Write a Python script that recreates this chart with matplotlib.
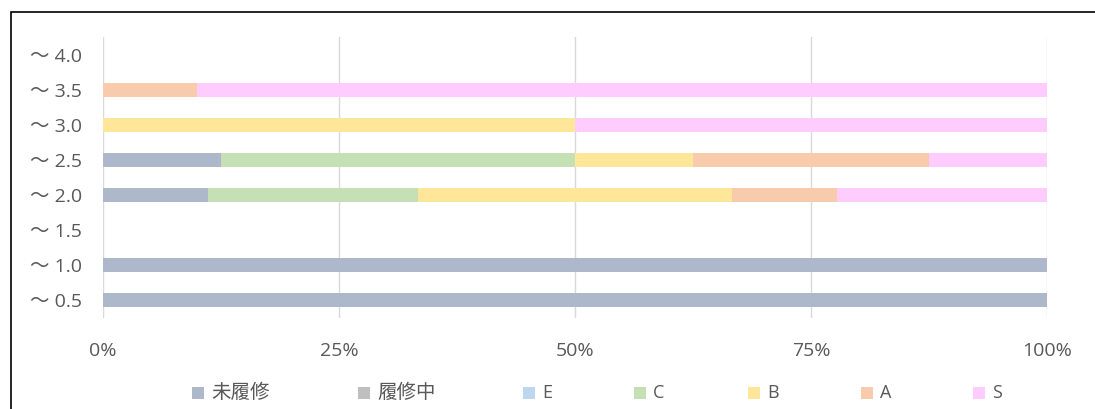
"""
Stacked 100% bar chart of grade distribution per score band.
"""
import numpy as np
import matplotlib.pyplot as plt
from matplotlib.patches import Rectangle

plt.rcParams['font.family'] = ['Open Sans', 'Noto Sans CJK JP', 'DejaVu Sans']

# categories from bottom to top
bands = ['～ 0.5', '～ 1.0', '～ 1.5', '～ 2.0', '～ 2.5', '～ 3.0', '～ 3.5', '～ 4.0']
series = ['未履修', '履修中', 'E', 'C', 'B', 'A', 'S']
colors = ['#ADB9CA', '#BFBFBF', '#BDD7EE', '#C5E0B4', '#FFE699', '#F8CBAD', '#FFCCFF']

# counts per band (same order as bands)
mirishu  = [1, 1, 0, 1, 1, 0, 0, 0]
rishuchu = [0, 0, 0, 0, 0, 0, 0, 0]
grade_e  = [0, 0, 0, 0, 0, 0, 0, 0]
grade_c  = [0, 0, 0, 2, 3, 0, 0, 0]
grade_b  = [0, 0, 0, 3, 1, 1, 0, 0]
grade_a  = [0, 0, 0, 1, 2, 0, 1, 0]
grade_s  = [0, 0, 0, 2, 1, 1, 9, 0]

xticks = [0, 25, 50, 75, 100]
xticklabels = ['0%', '25%', '50%', '75%', '100%']

# legend entry left edges in pixels (layout only)
legend_x = [192, 358, 523, 634, 748, 861, 973]


def main():
    counts = np.array([mirishu, rishuchu, grade_e, grade_c, grade_b, grade_a, grade_s], dtype=float)
    totals = counts.sum(axis=0)
    pct = np.divide(counts * 100, totals, out=np.zeros_like(counts), where=totals > 0)

    W, H = 1095, 409
    fig = plt.figure(figsize=(W / 100, H / 100), dpi=100)
    ax = fig.add_axes([103 / W, 1 - 318 / H, (1047 - 103) / W, (318 - 37) / H])

    # outer chart frame
    fig.patches.append(Rectangle((11 / W, -0.1), 1.2, 1.1 - 12 / H, transform=fig.transFigure,
                                 fill=False, edgecolor='#000000', linewidth=1.2))

    y = np.arange(len(bands))
    left = np.zeros(len(bands))
    for i, name in enumerate(series):
        ax.barh(y, pct[i], left=left, height=0.4, color=colors[i], label=name,
                linewidth=0, zorder=3)
        left += pct[i]

    ax.set_xlim(0, 100)
    ax.set_ylim(-0.5, len(bands) - 0.5)
    ax.set_xticks(xticks)
    ax.set_xticklabels(xticklabels)
    ax.set_yticks(y)
    ax.set_yticklabels(bands)
    ax.tick_params(length=0, labelsize=14, labelcolor='#595959')
    ax.tick_params(axis='x', pad=17)
    ax.tick_params(axis='y', pad=15)
    ax.grid(axis='x', color='#D9D9D9', linewidth=1, zorder=0)
    for s in ax.spines.values():
        s.set_visible(False)

    # legend drawn entry by entry to match spacing
    ly = 1 - 393 / H
    for name, c, x in zip(series, colors, legend_x):
        fig.patches.append(Rectangle((x / W, ly - 6 / H), 12 / W, 12 / H,
                                     transform=fig.transFigure, color=c, linewidth=0))
        fig.text((x + 19) / W, ly, name, fontsize=14 if len(name) > 1 else 13,
                 color='#595959', va='center', ha='left')

    fig.savefig('out.png', dpi=100)


if __name__ == "__main__":
    main()
